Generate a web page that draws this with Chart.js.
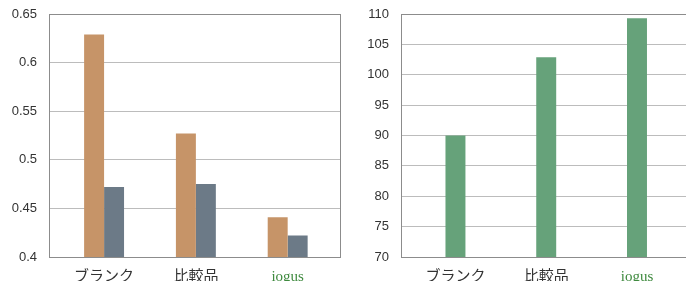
<!DOCTYPE html>
<html>
<head>
<meta charset="utf-8">
<script src="https://cdn.jsdelivr.net/npm/chart.js@4.4.1/dist/chart.umd.min.js"></script>
<style>
	html, body { margin: 0; padding: 0; background: #fff; overflow: hidden; }
	.box { position: absolute; top: 0; height: 281px; }
	#leftBox { left: 0; width: 343px; }
	#rightBox { left: 343px; width: 343px; }
</style>
</head>
<body>
<div class="box" id="leftBox"><canvas id="left"></canvas></div>
<div class="box" id="rightBox"><canvas id="right"></canvas></div>
<script>
// data
const categories = ['ブランク', '比較品', 'iogus'];
const leftSeriesA = [0.629, 0.527, 0.441];
const leftSeriesB = [0.472, 0.475, 0.422];
const rightSeries = [90, 102.9, 109.3];
const leftYRange = [0.4, 0.65];
const leftYStep = 0.05;
const rightYRange = [70, 110];
const rightYStep = 5;

const orange = "#c69468";
const slate = "#6c7a87";
const green = "#66a27a";
const labelGreen = "#3f8a3f";
const frameColor = "#8c8c8c";
const gridColor = "#bcbcbc";

const toPoints = (vals) => vals.map((v, i) => ({ x: i, y: v }));

// right-hand frame line of the plot area
const frameRight = {
	id: 'frameRight',
	afterDraw(chart, args, opts) {
		if (!opts.show) return;
		const a = chart.chartArea;
		const c = chart.ctx;
		c.save();
		c.strokeStyle = frameColor;
		c.lineWidth = 1;
		c.beginPath();
		c.moveTo(Math.round(a.right) + 0.5, a.top);
		c.lineTo(Math.round(a.right) + 0.5, a.bottom);
		c.stroke();
		c.restore();
	}
};

function makeChart(id, datasets, yRange, yStep, yWidth, xMax, padRight, showRight, pct) {
	return new Chart(document.getElementById(id), {
		type: 'bar',
		data: { datasets: datasets },
		plugins: [frameRight],
		options: {
			animation: false,
			responsive: true,
			maintainAspectRatio: false,
			devicePixelRatio: 1,
			layout: { padding: { top: 14, right: padRight, left: 0, bottom: 0 } },
			datasets: { bar: { barPercentage: 1, categoryPercentage: pct, borderWidth: 0 } },
			plugins: {
				legend: { display: false },
				tooltip: { enabled: false },
				frameRight: { show: showRight }
			},
			scales: {
				x: {
					type: 'linear',
					offset: false,
					min: -0.6,
					max: xMax,
					afterBuildTicks: (axis) => { axis.ticks = categories.map((c, i) => ({ value: i })); },
					afterFit: (axis) => { axis.height = 24; axis.paddingLeft = 0; axis.paddingRight = 0; },
					grid: { display: false, drawTicks: false },
					border: { display: true, color: frameColor },
					ticks: {
						autoSkip: false,
						maxRotation: 0,
						padding: 11,
						color: (ctx) => ctx.index === 2 ? labelGreen : '#333',
						font: { family: '"Liberation Serif", "Noto Sans CJK JP", serif', size: 15 },
						callback: (v) => categories[v]
					}
				},
				y: {
					min: yRange[0],
					max: yRange[1],
					afterFit: (axis) => { axis.width = yWidth; axis.paddingTop = 0; axis.paddingBottom = 0; },
					grid: {
						drawTicks: false,
						color: (ctx) => ctx.index === ctx.scale.ticks.length - 1 ? frameColor : gridColor
					},
					border: { display: true, color: frameColor },
					ticks: {
						stepSize: yStep,
						padding: 12,
						color: '#333',
						font: { family: '"Liberation Sans", Arial, sans-serif', size: 13 },
						callback: (v) => String(Math.round(v * 100) / 100)
					}
				}
			}
		}
	});
}

makeChart('left', [
	{ data: toPoints(leftSeriesA), backgroundColor: orange },
	{ data: toPoints(leftSeriesB), backgroundColor: slate }
], leftYRange, leftYStep, 49, 2.57, 3, true, 0.435);

makeChart('right', [
	{ data: toPoints(rightSeries), backgroundColor: green }
], rightYRange, rightYStep, 58, 2.54, 0, false, 0.22);
</script>
</body>
</html>
